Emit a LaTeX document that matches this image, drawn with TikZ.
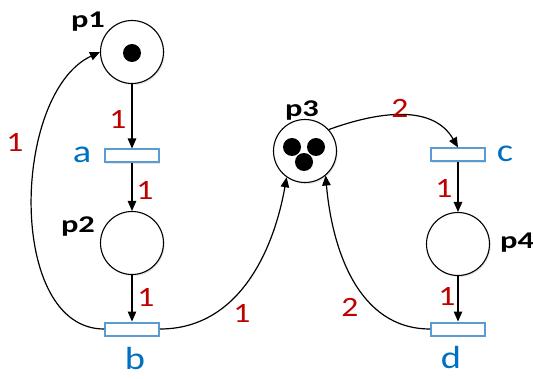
\documentclass[tikz,border=0pt]{standalone}
\usepackage{fontspec}
\setmainfont[FakeStretch=1.2]{Carlito}
\newfontfamily\pfont[FakeStretch=1.35]{Carlito}
\usetikzlibrary{arrows.meta,shadows}
\definecolor{wred}{RGB}{192,0,0}
\definecolor{tblue}{RGB}{0,112,192}
\definecolor{tedge}{RGB}{91,155,213}
\begin{document}
\begin{tikzpicture}[x=1pt,y=1pt,
  place/.style={circle, draw=black, line width=1.1pt, fill=white, minimum size=63pt, inner sep=0pt,
    drop shadow={shadow xshift=1.2pt, shadow yshift=-1.5pt, opacity=0.2}},
  trans/.style={rectangle, draw=tedge, line width=2pt, fill=white, minimum width=54pt, minimum height=13pt, inner sep=0pt,
    drop shadow={shadow xshift=1.2pt, shadow yshift=-1.5pt, opacity=0.2}},
  token/.style={circle, fill=black, inner sep=0pt, minimum size=18pt},
  arc/.style={line width=1.2pt, -{Triangle[length=10pt,width=8.5pt]}},
  pname/.style={font=\fontsize{24}{28}\pfont\bfseries},
  tname/.style={font=\fontsize{32}{36}\selectfont, text=tblue},
  weight/.style={font=\fontsize{28}{32}\selectfont, text=wred}]
\useasboundingbox (0,0) rectangle (533,378);
\node[place] (p1) at (132,326) {};
\node[token] (tok1) at (132,325) {};
\node[place] (p2) at (132,135) {};
\node[place] (p3) at (305,227) {};
\node[token] (tok3a) at (292,231) {};
\node[token] (tok3b) at (316,231) {};
\node[token] (tok3c) at (304,216) {};
\node[place] (p4) at (458,134) {};
\node[trans] (a) at (132,222) {};
\node[trans] (b) at (132,49) {};
\node[trans] (c) at (458,223) {};
\node[trans] (d) at (458,49) {};
\node[pname] (lp1) at (88,356) {p1};
\node[pname] (lp2) at (78,151) {p2};
\node[pname] (lp3) at (302,267) {p3};
\node[pname] (lp4) at (517,135) {p4};
\node[tname] (la) at (82,223) {a};
\node[tname] (lb) at (135,20) {b};
\node[tname] (lc) at (505,224) {c};
\node[tname] (ld) at (451,21) {d};
\draw[arc] (p1.south) -- (a.north);
\draw[arc] (a.south) -- (p2.north);
\draw[arc] (p2.south) -- (b.north);
\draw[arc] (c.south) -- (p4.north);
\draw[arc] (p4.south) -- (d.north);
\draw[arc] (b.west) to[out=180, in=205, looseness=0.9] (p1.west);
\draw[arc] (b.east) to[out=0, in=260] (p3.235);
\draw[arc] (d.west) to[out=180, in=275] (p3.310);
\draw[arc] (p3.42) to[out=20, in=120] (c.north);
\node[weight] (w1) at (118,259) {1};
\node[weight] (w2) at (145,188) {1};
\node[weight] (w3) at (146,81) {1};
\node[weight] (w4) at (242,65) {1};
\node[weight] (w5) at (15,236) {1};
\node[weight] (w6) at (400,270) {2};
\node[weight] (w7) at (444,190) {1};
\node[weight] (w8) at (447,82) {1};
\node[weight] (w9) at (350,71) {2};
\end{tikzpicture}
\end{document}
